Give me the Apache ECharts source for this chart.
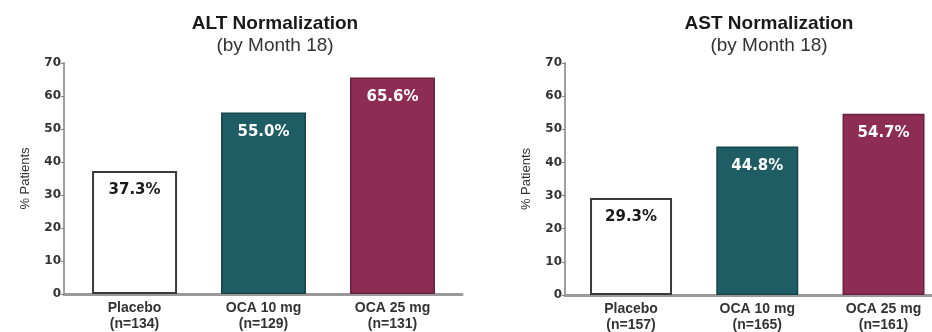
<!DOCTYPE html>
<html>
<head>
<meta charset="utf-8">
<script src="https://cdn.jsdelivr.net/npm/echarts@6/dist/echarts.min.js"></script>
<style>
  html, body { margin: 0; padding: 0; background: #ffffff; }
  #chart { width: 932px; height: 332px; }
</style>
</head>
<body>
<div id="chart"></div>
<script>
// Treatment arms and response rates (% of patients normalized by month 18)
const categories = ['Placebo', 'OCA 10 mg', 'OCA 25 mg'];
const altCounts = [134, 129, 131];
const astCounts = [157, 165, 161];
const altValues = [37.3, 55.0, 65.6];
const astValues = [29.3, 44.8, 54.7];
const yMin = 0;
const yMax = 70;
const yStep = 10;

const barColors = ['#ffffff', '#1f5d64', '#8d2d53'];
const barBorders = ['#3a3a3a', '#17454a', '#6a2240'];
const labelColors = ['#1a1a1a', '#ffffff', '#ffffff'];

const chart = echarts.init(document.getElementById('chart'), null, { renderer: 'canvas' });

function categoryLabel(i, counts) {
  return '{a|' + categories[i] + '}\n{b|(n=' + counts[i] + ')}';
}

function barData(values) {
  return values.map((v, i) => ({
    value: [i, v],
    itemStyle: { color: barColors[i], borderColor: barBorders[i], borderWidth: i === 0 ? 2 : 1.5 },
    label: { color: labelColors[i] }
  }));
}

function xAxisFor(gridIndex, min, max, counts) {
  return {
    type: 'value', gridIndex, min, max,
    splitLine: { show: false },
    axisLine: { show: true, onZero: false, lineStyle: { color: '#9a9a9a', width: 3 } },
    axisTick: { show: false },
    axisLabel: {
      customValues: categories.map((_, i) => i),
      formatter: v => categoryLabel(Math.round(v), counts),
      margin: 6,
      rich: {
        a: { fontFamily: 'Liberation Sans', fontWeight: 'bold', fontSize: 14, color: '#333', lineHeight: 16 },
        b: { fontFamily: 'Liberation Sans', fontWeight: 'bold', fontSize: 14, color: '#333', lineHeight: 16 }
      }
    }
  };
}

function yAxisFor(gridIndex) {
  return {
    type: 'value', gridIndex, min: yMin, max: yMax, interval: yStep,
    name: '% Patients', nameLocation: 'middle', nameGap: 32, nameRotate: 90,
    nameTextStyle: { fontFamily: 'Liberation Sans', fontSize: 13, color: '#333' },
    splitLine: { show: false },
    axisLine: { show: true, onZero: false, lineStyle: { color: '#a0a0a0', width: 2 } },
    axisTick: { show: true, length: 3, lineStyle: { color: '#808080', width: 1 } },
    axisLabel: { fontFamily: 'DejaVu Sans', fontWeight: 'bold', fontSize: 12, color: '#333', margin: 3 }
  };
}

function barSeries(idx, values, width) {
  return {
    type: 'bar', xAxisIndex: idx, yAxisIndex: idx,
    barWidth: width,
    data: barData(values),
    label: {
      show: true, position: 'insideTop', distance: 12,
      fontFamily: 'DejaVu Sans', fontWeight: 'bold', fontSize: 15,
      formatter: p => p.value[1].toFixed(1) + '%'
    }
  };
}

const titleBase = {
  textAlign: 'center', top: 9, itemGap: 3,
  textStyle: { fontFamily: 'Liberation Sans', fontWeight: 'bold', fontSize: 19, color: '#1a1a1a' },
  subtextStyle: { fontFamily: 'Liberation Sans', fontSize: 19, color: '#333' }
};

chart.setOption({
  animation: false,
  backgroundColor: '#ffffff',
  title: [
    Object.assign({}, titleBase, { text: 'ALT Normalization', subtext: '(by Month 18)', left: 270 }),
    Object.assign({}, titleBase, { text: 'AST Normalization', subtext: '(by Month 18)', left: 764 })
  ],
  grid: [
    { left: 64, width: 398, top: 63, bottom: 38 },
    { left: 565, width: 367, top: 63, bottom: 36 }
  ],
  xAxis: [
    xAxisFor(0, -0.547, 2.539, altCounts),
    xAxisFor(1, -0.523, 2.384, astCounts)
  ],
  yAxis: [yAxisFor(0), yAxisFor(1)],
  series: [
    barSeries(0, altValues, 85),
    barSeries(1, astValues, 82)
  ]
});
</script>
</body>
</html>
